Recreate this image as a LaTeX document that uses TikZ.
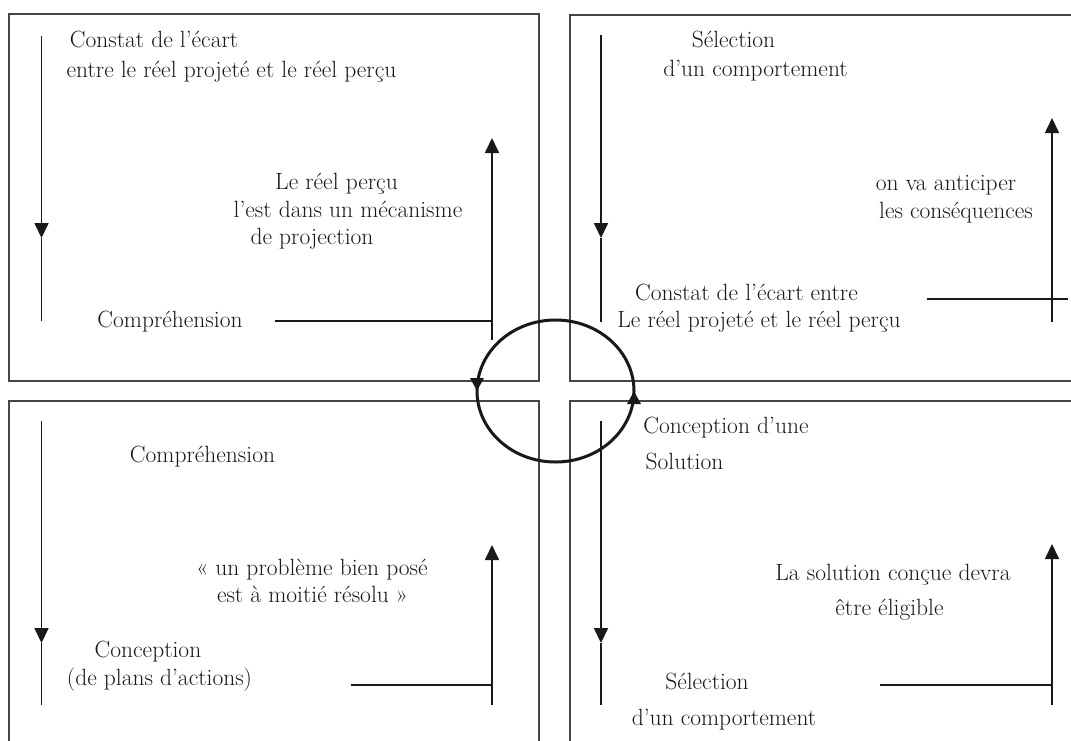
\documentclass[tikz,border=0pt]{standalone}
\usepackage{fontspec}
\usetikzlibrary{arrows.meta,decorations.markings}
\definecolor{boxgray}{RGB}{70,70,70}
\definecolor{ink}{RGB}{25,25,25}
\begin{document}
\begin{tikzpicture}[x=1pt,y=1pt,
  box/.style={draw=boxgray, line width=1.3pt},
  flow/.style={draw=ink, line width=1.7pt},
  tipped/.style={flow, -{Triangle[width=14pt,length=15pt]}},
  lbl/.style={font=\fontsize{23.5}{28}\selectfont, inner sep=0pt, anchor=base, text=ink},
  loop/.style={draw=ink, line width=3pt, postaction={decorate},
    decoration={markings,
      mark=at position 0.25 with {\arrow{Triangle[width=13pt,length=13pt]}},
      mark=at position 0.75 with {\arrow{Triangle[width=13pt,length=13pt]}}}}
]
\useasboundingbox (0,0) rectangle (1071,-740);
\clip (0,0) rectangle (1071,-740);
\fill[white] (0,0) rectangle (1071,-740);

% boxes
\draw[box] (9,-14) rectangle (539,-381);
\draw[box] (570,-15) rectangle (1095,-381);
\draw[box] (9,-401) rectangle (539,-765);
\draw[box] (570,-401) rectangle (1095,-765);

% ---- top-left quadrant
\coordinate (a1s) at (41.5,-36);
\coordinate (a1m) at (41.5,-238);
\coordinate (a1e) at (41.5,-321);
\coordinate (b1s) at (492,-340);
\coordinate (b1e) at (492,-138);
\coordinate (h1s) at (275,-321);
\coordinate (h1e) at (492,-321);
\draw[tipped] (a1s) -- (a1m);
\draw[flow] (a1m) -- (a1e);
\draw[tipped] (b1s) -- (b1e);
\draw[flow] (h1s) -- (h1e);

\node[lbl] (t11) at (154,-47) {Constat de l’écart};
\node[lbl] (t12) at (231.5,-77) {entre le réel projeté et le réel perçu};
\node[lbl] (t13) at (336.5,-189) {Le réel perçu};
\node[lbl] (t14) at (348,-217) {l’est dans un mécanisme};
\node[lbl] (t15) at (312,-244) {de projection};
\node[lbl] (t16) at (170,-327) {Compréhension};

% ---- top-right quadrant
\coordinate (a2s) at (601,-35);
\coordinate (a2m) at (601,-238);
\coordinate (a2e) at (601,-322);
\coordinate (b2s) at (1052,-322);
\coordinate (b2e) at (1052,-118);
\coordinate (h2s) at (927,-299);
\coordinate (h2e) at (1068,-299);
\draw[tipped] (a2s) -- (a2m);
\draw[flow] (a2m) -- (a2e);
\draw[tipped] (b2s) -- (b2e);
\draw[flow] (h2s) -- (h2e);

\node[lbl] (t21) at (733.5,-47) {Sélection};
\node[lbl] (t22) at (755.5,-76) {d’un comportement};
\node[lbl] (t23) at (946,-190) {on va anticiper};
\node[lbl] (t24) at (956,-218) {les conséquences};
\node[lbl] (t25) at (746.5,-300) {Constat de l’écart entre};
\node[lbl] (t26) at (759,-327) {Le réel projeté et le réel perçu};

% ---- bottom-left quadrant
\coordinate (a3s) at (41.5,-421);
\coordinate (a3m) at (41.5,-643);
\coordinate (a3e) at (41.5,-705);
\coordinate (b3s) at (492,-705);
\coordinate (b3e) at (492,-545);
\coordinate (h3s) at (351,-685);
\coordinate (h3e) at (492,-685);
\draw[tipped] (a3s) -- (a3m);
\draw[flow] (a3m) -- (a3e);
\draw[tipped] (b3s) -- (b3e);
\draw[flow] (h3s) -- (h3e);

\node[lbl] (t31) at (202.5,-462) {Compréhension};
\node[lbl] (t32) at (312,-575) {«~un problème bien posé};
\node[lbl] (t33) at (312.5,-602) {est à moitié résolu~»};
\node[lbl] (t34) at (148,-657) {Conception};
\node[lbl] (t35) at (159.5,-685) {(de plans d’actions)};

% ---- bottom-right quadrant
\coordinate (a4s) at (601,-421);
\coordinate (a4m) at (601,-643);
\coordinate (a4e) at (601,-705);
\coordinate (b4s) at (1052,-705);
\coordinate (b4e) at (1052,-544);
\coordinate (h4s) at (880,-685);
\coordinate (h4e) at (1052,-685);
\draw[tipped] (a4s) -- (a4m);
\draw[flow] (a4m) -- (a4e);
\draw[tipped] (b4s) -- (b4e);
\draw[flow] (h4s) -- (h4e);

\node[lbl] (t41) at (726,-433) {Conception d’une};
\node[lbl] (t42) at (684.5,-469) {Solution};
\node[lbl] (t43) at (893,-580) {La solution conçue devra};
\node[lbl] (t44) at (889.5,-615) {être éligible};
\node[lbl] (t45) at (707,-689) {Sélection};
\node[lbl] (t46) at (724,-725) {d’un comportement};

% ---- central cycle
\coordinate (cc) at (555.5,-391);
\draw[loop] ([shift={(-90:78.5 and 71)}]cc) arc[start angle=-90, end angle=270, x radius=78.5, y radius=71];
\end{tikzpicture}
\end{document}
